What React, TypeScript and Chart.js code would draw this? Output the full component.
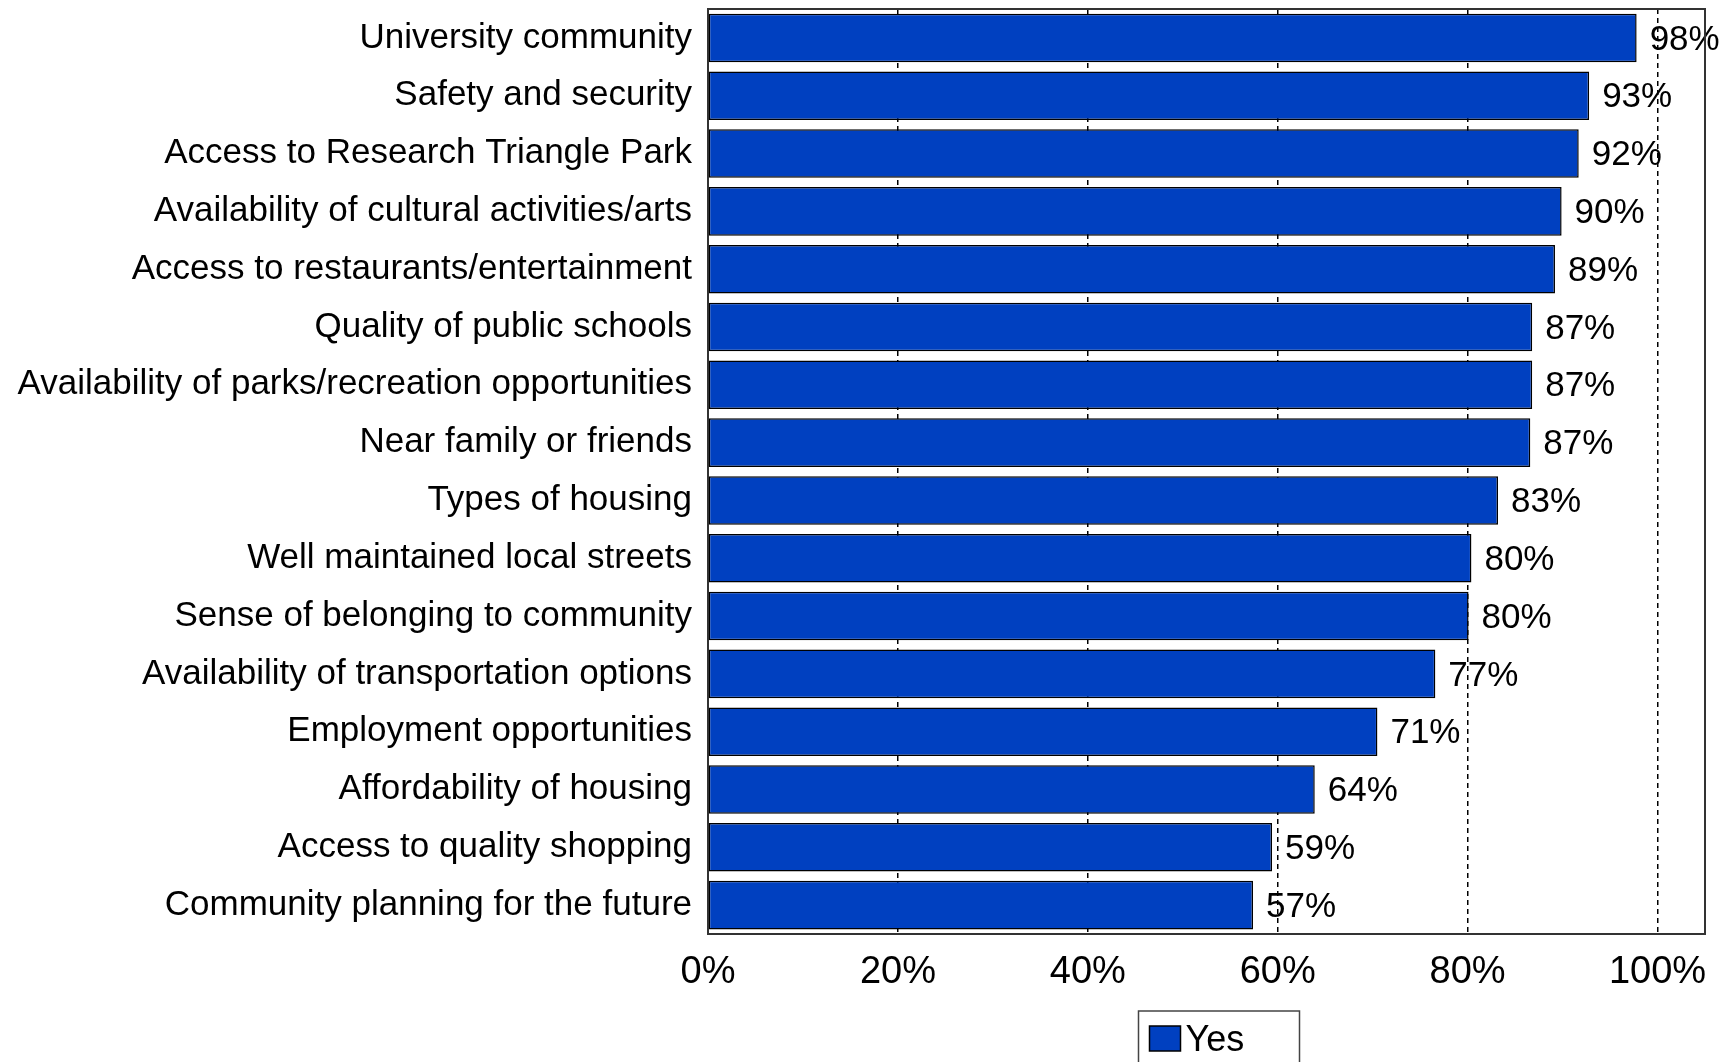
import React, { useEffect, useRef } from 'react';
import { Chart, registerables } from 'chart.js';

Chart.register(...registerables);

const categories = [
  'University community',
  'Safety and security',
  'Access to Research Triangle Park',
  'Availability of cultural activities/arts',
  'Access to restaurants/entertainment',
  'Quality of public schools',
  'Availability of parks/recreation opportunities',
  'Near family or friends',
  'Types of housing',
  'Well maintained local streets',
  'Sense of belonging to community',
  'Availability of transportation options',
  'Employment opportunities',
  'Affordability of housing',
  'Access to quality shopping',
  'Community planning for the future',
];

const values = [97.8, 92.8, 91.7, 89.9, 89.2, 86.8, 86.8, 86.6, 83.2, 80.4, 80.1, 76.6, 70.5, 63.9, 59.4, 57.4];
const valueLabels = ['98%', '93%', '92%', '90%', '89%', '87%', '87%', '87%', '83%', '80%', '80%', '77%', '71%', '64%', '59%', '57%'];
const xTicks = [0, 20, 40, 60, 80, 100];
const seriesName = 'Yes';

const FAMILY = '"Liberation Sans", Arial, sans-serif';
const BAR_COLOR = '#0040C0';

const overlayPlugin = {
  id: 'overlay',
  afterDatasetsDraw(chart: any) {
    const { ctx } = chart;
    const meta = chart.getDatasetMeta(0);
    ctx.save();
    ctx.font = `35px ${FAMILY}`;
    ctx.fillStyle = '#000';
    ctx.textBaseline = 'middle';
    ctx.textAlign = 'left';
    meta.data.forEach((el: any, i: number) => {
      ctx.fillText(valueLabels[i], el.x + 13, el.y + 2);
    });
    ctx.restore();
  },
  afterDraw(chart: any) {
    const { ctx, chartArea: a } = chart;
    ctx.save();
    ctx.strokeStyle = '#333';
    ctx.lineWidth = 2;
    ctx.strokeRect(a.left, a.top, a.right - a.left, a.bottom - a.top);

    // legend box
    const cx = (a.left + a.right) / 2 + 12;
    const bx = cx - 80;
    const by = a.bottom + 77;
    ctx.fillStyle = '#fff';
    ctx.fillRect(bx, by, 161, 80);
    ctx.strokeStyle = '#444';
    ctx.lineWidth = 1.5;
    ctx.strokeRect(bx, by, 161, 80);
    ctx.fillStyle = BAR_COLOR;
    ctx.fillRect(bx + 11, by + 15, 31, 25);
    ctx.strokeStyle = '#000';
    ctx.lineWidth = 1.5;
    ctx.strokeRect(bx + 11, by + 15, 31, 25);
    ctx.fillStyle = '#000';
    ctx.font = `36px ${FAMILY}`;
    ctx.textBaseline = 'middle';
    ctx.textAlign = 'left';
    ctx.fillText(seriesName, bx + 47, by + 30);
    ctx.restore();
  },
};

export default function App() {
  const ref = useRef<HTMLCanvasElement>(null);

  useEffect(() => {
    if (!ref.current) return;
    const chart = new Chart(ref.current, {
      type: 'bar',
      data: {
        labels: categories,
        datasets: [
          {
            label: seriesName,
            data: values,
            backgroundColor: BAR_COLOR,
            borderColor: '#000',
            borderWidth: 1.5,
            borderSkipped: false,
            barPercentage: 0.84,
            categoryPercentage: 1,
          },
        ],
      },
      options: {
        indexAxis: 'y',
        responsive: false,
        animation: false,
        layout: { autoPadding: false, padding: { top: 9, right: 28, left: 0, bottom: 0 } },
        plugins: { legend: { display: false }, tooltip: { enabled: false } },
        scales: {
          x: {
            min: 0,
            max: 105,
            afterBuildTicks: (s: any) => {
              s.ticks = xTicks.map((v) => ({ value: v }));
            },
            afterFit: (s: any) => {
              s.height = 128;
              s.paddingLeft = 0;
              s.paddingRight = 0;
            },
            grid: { color: '#000', lineWidth: 1.5, drawTicks: false },
            border: { display: true, color: '#333', width: 2, dash: [5, 4] },
            ticks: {
              padding: 16,
              color: '#000',
              font: { size: 38, family: FAMILY },
              maxRotation: 0,
              autoSkip: false,
              callback: (v: any) => v + '%',
            },
          },
          y: {
            afterFit: (s: any) => {
              s.width = 708;
              s.paddingTop = 0;
              s.paddingBottom = 0;
            },
            grid: { display: false, drawTicks: false },
            border: { display: false },
            ticks: {
              padding: 16,
              color: '#000',
              autoSkip: false,
              font: { size: 35, family: FAMILY },
            },
          },
        },
      },
      plugins: [overlayPlugin],
    });
    return () => chart.destroy();
  }, []);

  return (
    <div style={{ position: 'fixed', left: 0, top: 0, width: 1733, height: 1062, background: '#fff' }}>
      <canvas ref={ref} width={1733} height={1062} style={{ display: 'block' }} />
    </div>
  );
}
